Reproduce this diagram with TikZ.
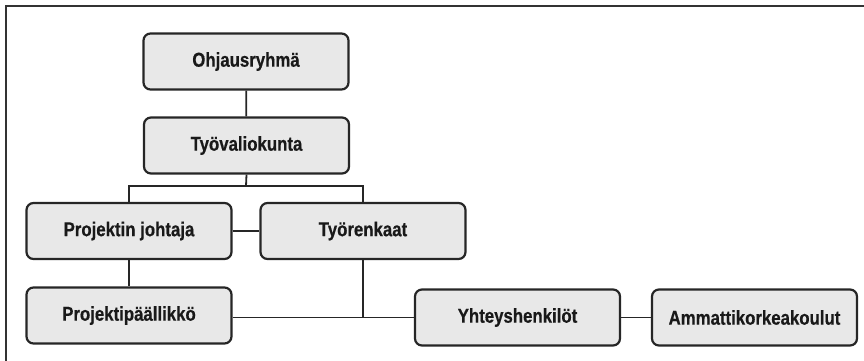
\documentclass[tikz,border=0pt]{standalone}
\usepackage{fontspec}
\setmainfont{Liberation Sans}[FakeStretch=0.84,BoldFeatures={FakeBold=0.5}]
\begin{document}
\begin{tikzpicture}[x=1pt,y=-1pt,
  box/.style={draw=black!85,line width=2.2pt,fill=black!9,rounded corners=7pt,
    minimum width=205pt,minimum height=56pt,inner sep=0pt,
    font=\fontsize{20}{24}\selectfont\bfseries,text=black!90},
  conn/.style={line width=1.8pt,draw=black!85}]
\useasboundingbox (0,0) rectangle (864,361);
\draw[line width=1.6pt,black!80] (864,6) -- (6,6) -- (6,361);
\node[box] (ohj) at (246,61.5) {Ohjausryhmä};
\node[box] (tvk) at (246.5,145.5) {Työvaliokunta};
\node[box] (pj) at (129,231) {Projektin johtaja};
\node[box] (tr) at (363,231) {Työrenkaat};
\node[box] (pp) at (129,315.5) {Projektipäällikkö};
\node[box] (yh) at (517.5,317.5) {Yhteyshenkilöt};
\node[box] (amk) at (754.5,317.5) {Ammattikorkeakoulut};
\coordinate (bar) at (246,186);
\draw[conn] (ohj) -- (tvk);
\draw[conn] (tvk.south) -- (bar);
\draw[conn] (pj.north) |- (bar) -| (tr.north);
\draw[conn] (pj) -- (tr);
\draw[conn] (pj) -- (pp);
\draw[conn] (pp.east |- yh.west) -- (yh.west);
\draw[conn] (tr.south) -- (tr.south |- yh.west);
\draw[conn] (yh) -- (amk);
\end{tikzpicture}
\end{document}
